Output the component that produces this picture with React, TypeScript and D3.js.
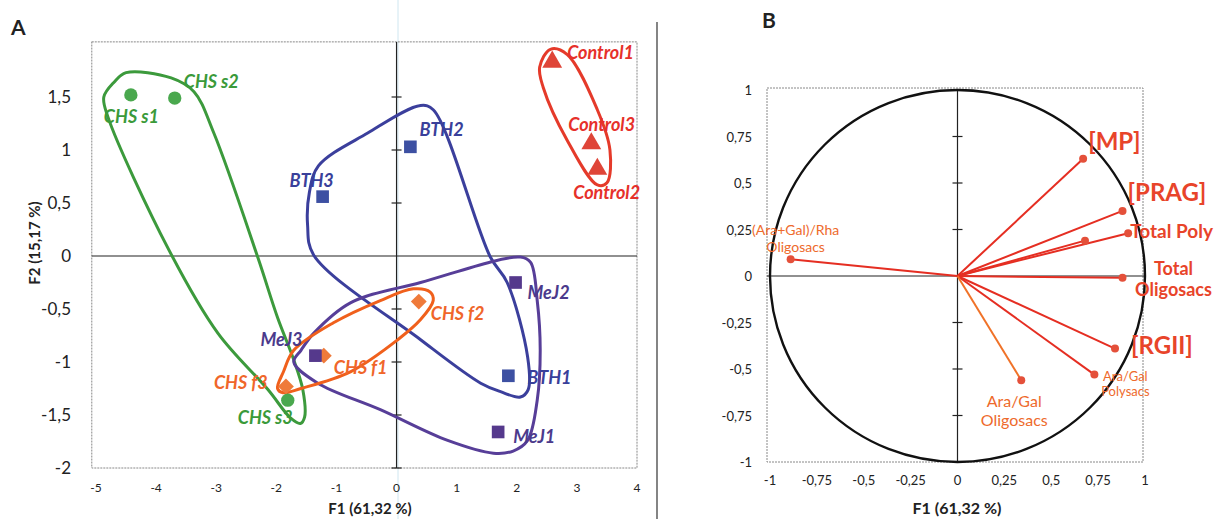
import React from "react";
import * as d3 from "d3";

// ---- panel A: sample scores on F1 / F2
const sampleNames = ["CHS s1", "CHS s2", "CHS s3", "CHS f1", "CHS f2", "CHS f3", "MeJ1", "MeJ2", "MeJ3", "BTH1", "BTH2", "BTH3", "Control1", "Control2", "Control3"];
const sampleF1 = [-4.42, -3.69, -1.81, -1.21, 0.37, -1.84, 1.69, 1.98, -1.35, 1.86, 0.23, -1.23, 2.59, 3.34, 3.24];
const sampleF2 = [1.52, 1.49, -1.36, -0.94, -0.43, -1.23, -1.66, -0.25, -0.94, -1.13, 1.03, 0.56, 1.83, 0.82, 1.06];
const sampleGroup = ["CHSs", "CHSs", "CHSs", "CHSf", "CHSf", "CHSf", "MeJ", "MeJ", "MeJ", "BTH", "BTH", "BTH", "Control", "Control", "Control"];

// hand drawn group envelopes, in F1/F2 units
const hullCHSs = [[-4.87, 1.5], [-4.7, 1.64], [-4.5, 1.73], [-3.75, 1.68], [-3.37, 1.55], [-3.04, 1.16], [-2.31, -0.01], [-1.98, -0.58], [-1.71, -0.98], [-1.56, -1.26], [-1.53, -1.52], [-1.6, -1.58], [-1.76, -1.53], [-2.14, -1.26], [-2.97, -0.73], [-3.79, 0.06], [-4.8, 1.31]];
const hullBTH = [[0.4, 1.42], [0.61, 1.38], [1.56, -0.01], [1.84, -0.25], [2.18, -0.95], [2.19, -1.26], [2.06, -1.33], [1.73, -1.28], [1.4, -1.2], [0.4, -0.79], [-1.38, 0.01], [-1.48, 0.29], [-1.45, 0.6], [-1.3, 0.85], [-0.48, 1.16]];
const hullMeJ = [[-1.71, -1.0], [-1.59, -0.89], [-1.38, -0.73], [-0.76, -0.44], [0.4, -0.25], [2.06, -0.01], [2.23, -0.06], [2.34, -0.42], [2.39, -0.89], [2.34, -1.36], [2.18, -1.74], [1.94, -1.84], [1.61, -1.86], [0.85, -1.74], [-0.27, -1.45], [-1.31, -1.2]];
const hullCHSf = [[-1.98, -1.25], [-1.88, -1.09], [-1.71, -0.89], [-1.05, -0.63], [-0.27, -0.42], [0.28, -0.31], [0.56, -0.34], [0.61, -0.42], [0.4, -0.6], [0.02, -0.79], [-0.76, -1.09], [-1.59, -1.25], [-1.89, -1.29]];
const hullControl = [[2.56, 1.95], [2.84, 1.9], [3.34, 1.38], [3.55, 1.0], [3.5, 0.69], [3.34, 0.67], [2.84, 1.09], [2.44, 1.59], [2.38, 1.78]];

const xTicksA = [-5, -4, -3, -2, -1, 0, 1, 2, 3, 4];
const yTicksA = [-2, -1.5, -1, -0.5, 0, 0.5, 1, 1.5];

// ---- panel B: correlation circle
const varNames = ["[MP]", "[PRAG]", "Total Poly", "", "Total Oligosacs", "[RGII]", "Ara/Gal Polysacs", "Ara/Gal Oligosacs", "(Ara+Gal)/Rha Oligosacs"];
const varF1 = [0.67, 0.88, 0.91, 0.68, 0.88, 0.84, 0.73, 0.34, -0.89];
const varF2 = [0.63, 0.35, 0.23, 0.19, -0.01, -0.39, -0.53, -0.56, 0.09];

const xTicksB = [-1, -0.75, -0.5, -0.25, 0, 0.25, 0.5, 0.75, 1];
const yTicksB = [-1, -0.75, -0.5, -0.25, 0, 0.25, 0.5, 0.75, 1];

const fmt = (v: number) => String(v).replace(".", ",");

const groupStyle: Record<string, { hull: string; fill: string; text: string; shape: d3.SymbolType; size: number }> = {
  CHSs: { hull: "#3c9a3c", fill: "#4aa84e", text: "#3a9a3a", shape: d3.symbolCircle, size: 140 },
  CHSf: { hull: "#f0601c", fill: "#ef7a3a", text: "#f0662a", shape: d3.symbolDiamond2, size: 160 },
  MeJ: { hull: "#573e98", fill: "#55398c", text: "#4b3a8c", shape: d3.symbolSquare, size: 160 },
  BTH: { hull: "#3b3f9c", fill: "#3d50a2", text: "#39409a", shape: d3.symbolSquare, size: 160 },
  Control: { hull: "#e53a2a", fill: "#df4538", text: "#e6302a", shape: d3.symbolTriangle, size: 170 },
};

const labelOffA: Record<string, [number, number]> = {
  "CHS s1": [-27, 28], "CHS s2": [9, -10], "CHS s3": [-50, 24], "CHS f1": [10, 18], "CHS f2": [12, 18], "CHS f3": [-72, 3],
  MeJ1: [15, 11], MeJ2: [12, 16], MeJ3: [-55, -10], BTH1: [19, 8], BTH2: [9, -11], BTH3: [-33, -10],
  Control1: [15, -3], Control2: [-24, 30], Control3: [-23, -13],
};

// label style for panel B: [dx, dy, anchor, size, weight]
const labelOffB: Record<string, [number, number, string, number, number]> = {
  "[MP]": [5, -9, "start", 24, 700],
  "[PRAG]": [5, -10, "start", 24, 700],
  "Total Poly": [2, 5, "start", 19, 700],
  "Total Oligosacs": [51, -3, "middle", 18, 700],
  "[RGII]": [16, 5, "start", 24, 700],
  "Ara/Gal Polysacs": [31, 6, "middle", 13, 400],
  "Ara/Gal Oligosacs": [-7, 27, "middle", 16, 400],
  "(Ara+Gal)/Rha Oligosacs": [5, -24, "middle", 14, 400],
};

const font = "Lato, 'Open Sans', sans-serif";

export default function App() {
  // panel A scales
  const xA = d3.scaleLinear().domain([-5, 4]).range([96, 637]);
  const yA = d3.scaleLinear().domain([-2, 2]).range([468, 44]);
  const hullLine = d3
    .line<number[]>()
    .x((d) => xA(d[0]))
    .y((d) => yA(d[1]))
    .curve(d3.curveCatmullRomClosed.alpha(0.5));

  const hulls: [number[][], string][] = [
    [hullCHSs, groupStyle.CHSs.hull],
    [hullBTH, groupStyle.BTH.hull],
    [hullMeJ, groupStyle.MeJ.hull],
    [hullCHSf, groupStyle.CHSf.hull],
    [hullControl, groupStyle.Control.hull],
  ];

  // panel B scales
  const xB = d3.scaleLinear().domain([-1, 1]).range([770, 1145]);
  const yB = d3.scaleLinear().domain([-1, 1]).range([462, 90]);

  return (
    <svg width={1229} height={519} style={{ position: "absolute", left: 0, top: 0, background: "#fff" }} fontFamily={font}>
      <rect width={1229} height={519} fill="#fff" />
      {/* scan artefact + panel separator */}
      <line x1={398} x2={398} y1={0} y2={519} stroke="#cfe6f0" strokeWidth={1} />
      <line x1={657} x2={657} y1={22} y2={519} stroke="#333" strokeWidth={1.2} />

      {/* ================= PANEL A ================= */}
      <text x={11} y={35} fontSize={21} fontWeight={700} fill="#222">A</text>
      <rect x={xA(-5.07)} y={yA(2.02)} width={xA(4) - xA(-5.07)} height={yA(-2) - yA(2.02)} fill="none" stroke="#888" strokeWidth={1} strokeDasharray="2,1" />
      <line x1={xA(-5.07)} x2={xA(4)} y1={yA(0)} y2={yA(0)} stroke="#222" strokeWidth={1.2} />
      <line x1={xA(0)} x2={xA(0)} y1={yA(2.02)} y2={yA(-2)} stroke="#222" strokeWidth={1.2} />
      {yTicksA.filter((t) => t !== 0).map((t) => (
        <line key={"ta" + t} x1={xA(0) - 5} x2={xA(0) + 5} y1={yA(t)} y2={yA(t)} stroke="#222" strokeWidth={1.2} />
      ))}
      {yTicksA.map((t) => (
        <text key={"ya" + t} x={71} y={yA(t) + 6} fontSize={17} textAnchor="end" fill="#222">{fmt(t)}</text>
      ))}
      {xTicksA.map((t) => (
        <text key={"xa" + t} x={xA(t)} y={492} fontSize={12} textAnchor="middle" fill="#222">{fmt(t)}</text>
      ))}
      <text x={370} y={514} fontSize={15} fontWeight={700} textAnchor="middle" fill="#222">F1 (61,32 %)</text>
      <text transform="translate(40,243) rotate(-90)" fontSize={15} fontWeight={700} textAnchor="middle" fill="#222">F2 (15,17 %)</text>

      {hulls.map(([pts, c], i) => (
        <path key={"h" + i} d={hullLine(pts) || ""} fill="none" stroke={c} strokeWidth={3} strokeLinejoin="round" />
      ))}

      {sampleNames.map((n, i) => {
        const s = groupStyle[sampleGroup[i]];
        const sym = d3.symbol().type(s.shape).size(s.size)();
        return <path key={"p" + n} d={sym || ""} transform={`translate(${xA(sampleF1[i])},${yA(sampleF2[i])})`} fill={s.fill} />;
      })}
      {sampleNames.map((n, i) => {
        const s = groupStyle[sampleGroup[i]];
        const [dx, dy] = labelOffA[n];
        return (
          <text key={"l" + n} x={xA(sampleF1[i]) + dx} y={yA(sampleF2[i]) + dy} fontSize={18} fontWeight={700} fontStyle="italic" fill={s.text}>
            {n}
          </text>
        );
      })}

      {/* ================= PANEL B ================= */}
      <text x={762} y={28} fontSize={21} fontWeight={700} fill="#222">B</text>
      <rect x={xB(-1) - 3} y={yB(1) - 2} width={xB(1) - xB(-1) + 1} height={yB(-1) - yB(1) + 2} fill="none" stroke="#888" strokeWidth={1} strokeDasharray="2,1" />
      <line x1={xB(-1) - 3} x2={xB(1)} y1={yB(0)} y2={yB(0)} stroke="#222" strokeWidth={1.2} />
      <line x1={xB(0)} x2={xB(0)} y1={yB(1)} y2={yB(-1)} stroke="#222" strokeWidth={1.2} />
      {yTicksB.filter((t) => t !== 0 && Math.abs(t) !== 1).map((t) => (
        <line key={"tb" + t} x1={xB(0) - 5} x2={xB(0) + 5} y1={yB(t)} y2={yB(t)} stroke="#222" strokeWidth={1.2} />
      ))}
      <ellipse cx={xB(0)} cy={yB(0)} rx={xB(1) - xB(0)} ry={yB(-1) - yB(0)} fill="none" stroke="#111" strokeWidth={2.4} />
      {yTicksB.map((t) => (
        <text key={"yb" + t} x={752} y={yB(t) + 5} fontSize={13} textAnchor="end" fill="#222">{fmt(t)}</text>
      ))}
      {xTicksB.map((t) => (
        <text key={"xb" + t} x={xB(t)} y={485} fontSize={13} textAnchor="middle" fill="#222">{fmt(t)}</text>
      ))}
      <text x={957} y={514} fontSize={16} fontWeight={700} textAnchor="middle" fill="#222">F1 (61,32 %)</text>

      {varNames.map((n, i) => (
        <line key={"v" + i} x1={xB(0)} y1={yB(0)} x2={xB(varF1[i])} y2={yB(varF2[i])} stroke={i === 7 ? "#f07228" : "#e52e22"} strokeWidth={2} />
      ))}
      {varNames.map((n, i) => (
        <circle key={"vc" + i} cx={xB(varF1[i])} cy={yB(varF2[i])} r={4} fill="#e4503a" />
      ))}
      {varNames.map((n, i) => {
        if (!n) return null;
        const [dx, dy, anchor, size, weight] = labelOffB[n];
        const lines = n === "[MP]" || n === "[PRAG]" || n === "[RGII]" || n === "Total Poly" ? [n] : [n.slice(0, n.lastIndexOf(" ")), n.slice(n.lastIndexOf(" ") + 1)];
        const big = weight === 700;
        return (
          <text key={"vl" + i} x={xB(varF1[i]) + dx} y={yB(varF2[i]) + dy} fontSize={size} fontWeight={weight} textAnchor={anchor} fill={big ? "#e8442a" : "#ee6a2c"}>
            {lines.map((l, j) => (
              <tspan key={j} x={xB(varF1[i]) + dx} dy={j === 0 ? 0 : size * 1.2}>
                {l}
              </tspan>
            ))}
          </text>
        );
      })}
    </svg>
  );
}
